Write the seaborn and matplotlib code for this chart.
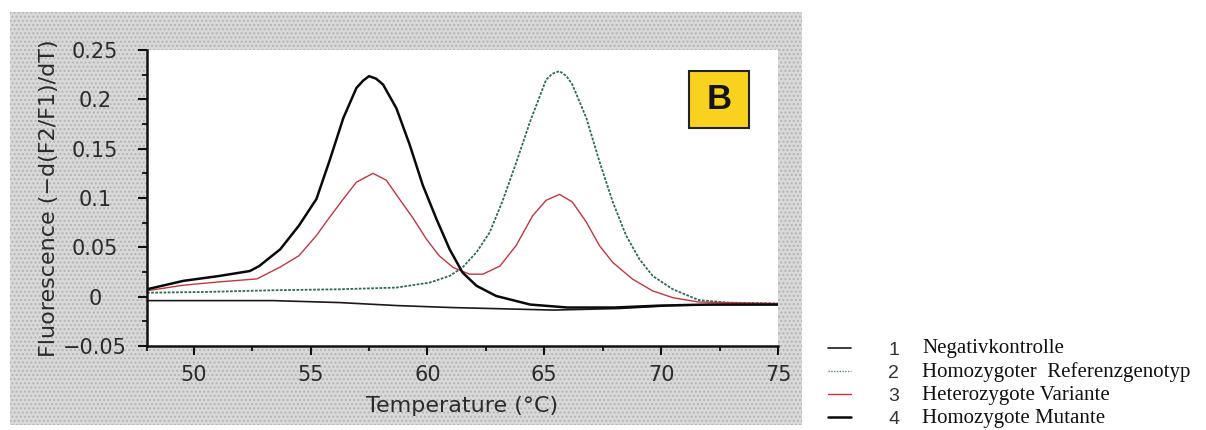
"""Melting curve figure (panel B): -d(F2/F1)/dT versus temperature."""

import matplotlib.pyplot as plt
import pandas as pd
import seaborn as sns
from matplotlib.patches import Rectangle

# curve 1: Negativkontrolle
NEG_T = [48, 50, 53.4, 56.25, 58.67, 61.0, 64.4, 65.4, 68.2, 70.5, 72.5, 75]
NEG_V = [-0.004, -0.004, -0.004, -0.006, -0.009, -0.011, -0.013, -0.0136,
         -0.012, -0.009, -0.008, -0.008]

# curve 2: Homozygoter Referenzgenotyp
REF_T = [48, 50.55, 53.4, 56.25, 58.67, 60.1, 60.95, 61.5, 62.1, 62.66, 63.2,
         63.8, 64.4, 65.08, 65.35, 65.65, 65.95, 66.2, 66.8, 67.36, 67.93,
         68.5, 69.07, 69.64, 70.5, 71.6, 72.8, 75]
REF_V = [0.004, 0.0048, 0.0065, 0.0075, 0.0092, 0.0143, 0.021, 0.0296, 0.045,
         0.065, 0.096, 0.136, 0.178, 0.220, 0.226, 0.2286, 0.2235, 0.215,
         0.181, 0.137, 0.096, 0.062, 0.038, 0.021, 0.0075, -0.0034, -0.006,
         -0.007]

# curve 3: Heterozygote Variante
HET_T = [48, 49.55, 51.1, 52.7, 53.7, 54.5, 55.25, 55.8, 56.4, 56.96, 57.67,
         58.24, 58.8, 59.4, 59.95, 60.5, 61.1, 61.8, 62.37, 63.1, 63.8, 64.5,
         65.08, 65.65, 66.2, 66.8, 67.36, 67.93, 68.78, 69.64, 70.5, 71.6,
         72.8, 75]
HET_V = [0.006, 0.0116, 0.015, 0.018, 0.030, 0.0415, 0.062, 0.080, 0.099,
         0.116, 0.125, 0.118, 0.099, 0.079, 0.0585, 0.0415, 0.0296, 0.0228,
         0.0228, 0.031, 0.052, 0.082, 0.0977, 0.1037, 0.096, 0.0755, 0.0517,
         0.0347, 0.0177, 0.0058, -0.001, -0.0054, -0.006, -0.007]

# curve 4: Homozygote Mutante
MUT_T = [48, 49.55, 51.1, 52.4, 52.8, 53.7, 54.5, 55.25, 55.8, 56.4, 56.96,
         57.25, 57.5, 57.8, 58.1, 58.67, 59.24, 59.8, 60.38, 60.95, 61.5,
         62.1, 62.94, 64.4, 66, 68, 70, 72, 75]
MUT_V = [0.0075, 0.016, 0.021, 0.026, 0.031, 0.048, 0.072, 0.099, 0.137,
         0.181, 0.2115, 0.219, 0.2235, 0.221, 0.215, 0.191, 0.154, 0.113,
         0.079, 0.048, 0.0245, 0.011, 0.0007, -0.008, -0.011, -0.011, -0.009,
         -0.008, -0.008]

SERIES_IDS = ["1", "2", "3", "4"]
SERIES_NAMES = [
    "Negativkontrolle",
    "Homozygoter  Referenzgenotyp",
    "Heterozygote Variante",
    "Homozygote Mutante",
]

X_TICKS = [50, 55, 60, 65, 70, 75]
X_TICK_LABELS = ["50", "55", "60", "65", "70", "75"]
Y_TICKS = [0.25, 0.2, 0.15, 0.1, 0.05, 0, -0.05]
Y_TICK_LABELS = ["0.25", "0.2", "0.15", "0.1", "0.05", "0", "\u22120.05"]

STYLES = {
    "1": dict(color="#1a1a1a", linewidth=1.2, linestyle="-"),
    "2": dict(color="#2d6a5c", linewidth=1.3, linestyle=(0, (1.5, 0.8))),
    "3": dict(color="#c4363c", linewidth=1.0, linestyle="-"),
    "4": dict(color="#0a0a0a", linewidth=1.8, linestyle="-"),
}

W, H = 1206, 430

sns.set_theme(style="ticks")
plt.rcParams["font.family"] = ["DejaVu Sans"]

frames = []
for sid, temps, vals in zip(SERIES_IDS, [NEG_T, REF_T, HET_T, MUT_T],
                            [NEG_V, REF_V, HET_V, MUT_V]):
    frames.append(pd.DataFrame({"series": sid, "temp": temps, "value": vals}))
df = pd.concat(frames, ignore_index=True)

fig = plt.figure(figsize=(W / 100, H / 100), dpi=100)
fig.patch.set_facecolor("white")

# stippled grey panel behind the plot
fig.patches.append(
    Rectangle((10 / W, 1 - 425 / H), 792 / W, 413 / H,
              transform=fig.transFigure, facecolor="#d9d9d9",
              edgecolor="#b4b4b4", hatch="....", linewidth=0, zorder=-1)
)

ax = fig.add_axes([147 / W, 1 - 346 / H, 631 / W, 296 / H])
ax.set_facecolor("white")

for sid in SERIES_IDS:
    sub = df[df["series"] == sid]
    sns.lineplot(data=sub, x="temp", y="value", ax=ax, sort=False,
                 estimator=None, legend=False, **STYLES[sid])

ax.set_xlim(48, 75)
ax.set_ylim(-0.05, 0.25)
ax.set_xticks(X_TICKS)
ax.set_xticklabels(X_TICK_LABELS)
ax.set_xticks([48, 52.5, 57.5, 62.5, 67.5, 72.5], minor=True)
ax.set_yticks(Y_TICKS)
ax.set_yticklabels(Y_TICK_LABELS)
ax.set_yticks([0.225, 0.175, 0.125, 0.075, 0.025, -0.025], minor=True)

for side in ("top", "right"):
    ax.spines[side].set_visible(False)
for side in ("left", "bottom"):
    ax.spines[side].set_linewidth(1.8)
    ax.spines[side].set_color("#111111")

ax.tick_params(axis="both", which="major", length=6.5, width=1.5,
               color="#111111", labelsize=15, labelcolor="#2a2a2a")
ax.tick_params(axis="both", which="minor", length=3.5, width=1.3,
               color="#111111")
ax.tick_params(axis="y", which="major", pad=31)
ax.tick_params(axis="x", which="major", pad=7)
plt.setp(ax.get_yticklabels(), ha="center")

ax.set_xlabel("Temperature (\u00b0C)", fontsize=16, color="#2a2a2a",
              labelpad=8)
ax.set_ylabel("Fluorescence (\u2212d(F2/F1)/dT)", fontsize=16,
              color="#2a2a2a", labelpad=3)

# panel tag
ax.add_patch(Rectangle((0.859, 0.7365), 0.095, 0.1926, transform=ax.transAxes,
                       facecolor="#f8d21e", edgecolor="#222222",
                       linewidth=1.5, zorder=5))
ax.text(0.9065, 0.833, "B", transform=ax.transAxes, ha="center",
        va="center", fontsize=25, fontweight="bold", color="#151515",
        family=["Liberation Sans", "DejaVu Sans"], zorder=6)

# legend: line samples with numbers, names in serif beside them
legend_styles = dict(STYLES)
legend_styles["2"] = dict(color="#4f8a7c", linewidth=1.0,
                          linestyle=(0, (1.0, 1.0)))
handles = [plt.Line2D([], [], **legend_styles[sid]) for sid in SERIES_IDS]
fig.legend(handles, SERIES_IDS, loc="upper left",
           bbox_to_anchor=(828 / W, 1 - 341 / H), frameon=False,
           handlelength=1.2, handletextpad=1.9,
           labelspacing=0.28, borderpad=0, borderaxespad=0,
           labelcolor="#333333",
           prop={"family": ["Liberation Sans", "DejaVu Sans"], "size": 14})
for i, name in enumerate(SERIES_NAMES):
    fig.text(922 / W, 1 - (353 + 23.5 * i) / H, name, ha="left",
             va="baseline", fontsize=15, color="#111111",
             family=["Liberation Serif", "DejaVu Serif"])

fig.savefig("out.png", dpi=100)
